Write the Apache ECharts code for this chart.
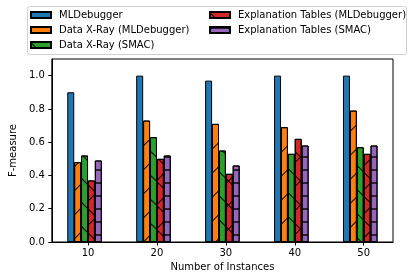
<!DOCTYPE html>
<html>
<head>
<meta charset="utf-8">
<script src="https://cdn.jsdelivr.net/npm/echarts@6/dist/echarts.min.js"></script>
<style>html,body{margin:0;padding:0;background:#fff}#c{width:417px;height:280px}</style>
</head>
<body>
<div id="c"></div>
<script>
const categories = [10, 20, 30, 40, 50];
const seriesNames = ['MLDebugger', 'Data X-Ray (MLDebugger)', 'Data X-Ray (SMAC)', 'Explanation Tables (MLDebugger)', 'Explanation Tables (SMAC)'];
const mlDebugger = [0.90, 1.00, 0.97, 1.00, 1.00];
const xrayML = [0.48, 0.73, 0.71, 0.69, 0.79];
const xraySMAC = [0.52, 0.63, 0.55, 0.53, 0.57];
const etML = [0.37, 0.50, 0.41, 0.62, 0.53];
const etSMAC = [0.49, 0.52, 0.46, 0.58, 0.58];
const yTicks = [0, 0.2, 0.4, 0.6, 0.8, 1.0];

const values = [mlDebugger, xrayML, xraySMAC, etML, etSMAC];
const offsets = [-2.5, -1.5, -0.5, 0.5, 1.5];
const colors = ['#1f77b4', '#ff7f0e', '#2ca02c', '#d62728', '#9467bd'];
const F = 'DejaVu Sans';
const back = { symbol: 'rect', dashArrayX: [1, 0], dashArrayY: [0.7, 16], rotation: -Math.PI / 4, color: '#000' };
const fwd = { symbol: 'rect', dashArrayX: [1, 0], dashArrayY: [0.7, 16], rotation: Math.PI / 4, color: '#000' };
const horiz = { symbol: 'rect', dashArrayX: [1, 0], dashArrayY: [1.5, 10.5], rotation: 0, color: 'rgba(0,0,0,0.7)' };
const decals = [null, back, fwd, fwd, horiz];

function mk(i, name, color, decal, border) {
  return {
    type: 'bar', name: name, barWidth: 7, barGap: '-100%',
    data: categories.map((c, k) => [c + offsets[i], values[i][k]]),
    itemStyle: Object.assign({ color: color, borderColor: '#000', borderWidth: border }, decal ? { decal: decal } : {}),
    emphasis: { disabled: true }, animation: false
  };
}
const series = seriesNames.map((n, i) => mk(i, n, colors[i], decals[i], 1));
series.push(mk(3, 'etOverlay', 'rgba(0,0,0,0)', back, 0));

const chart = echarts.init(document.getElementById('c'), null, { renderer: 'canvas' });
chart.setOption({
  animation: false,
  grid: { left: 44, right: 24, top: 59, bottom: 38, show: true, borderColor: '#000', borderWidth: 1, backgroundColor: 'transparent' },
  xAxis: {
    type: 'value', min: 4.75, max: 54.25,
    splitLine: { show: false },
    axisLine: { lineStyle: { color: '#000', width: 1 } },
    axisTick: { show: true, length: 3.5, lineStyle: { color: '#000' }, customValues: categories },
    axisLabel: { customValues: categories, margin: 6, fontFamily: F, fontSize: 10, color: '#000' },
    name: 'Number of Instances', nameLocation: 'middle', nameGap: 20,
    nameTextStyle: { fontFamily: F, fontSize: 10, color: '#000' }
  },
  yAxis: {
    type: 'value', min: 0, max: 1.1,
    splitLine: { show: false },
    axisLine: { show: true, lineStyle: { color: '#000', width: 1 } },
    axisTick: { show: true, length: 3.5, lineStyle: { color: '#000' }, customValues: yTicks },
    axisLabel: { customValues: yTicks, margin: 7, fontFamily: F, fontSize: 10, color: '#000', formatter: v => v.toFixed(1) },
    name: 'F-measure', nameLocation: 'middle', nameGap: 29,
    nameTextStyle: { fontFamily: F, fontSize: 10, color: '#000' }
  },
  graphic: [{
    type: 'rect', left: 27, top: 6, z: -1,
    shape: { width: 379, height: 48, r: 2 },
    style: { fill: '#fff', stroke: '#d0d0d0', lineWidth: 1 }
  }],
  legend: [
    { data: seriesNames.slice(0, 3), orient: 'vertical', left: 30, top: 9, padding: 0, itemGap: 3, itemWidth: 20, itemHeight: 6, icon: 'rect',
      textStyle: { fontFamily: F, fontSize: 10, color: '#000', lineHeight: 12, padding: [0, 0, 0, 3] }, selectedMode: false },
    { data: seriesNames.slice(3), orient: 'vertical', left: 209, top: 9, padding: 0, itemGap: 3, itemWidth: 20, itemHeight: 6, icon: 'rect',
      textStyle: { fontFamily: F, fontSize: 10, color: '#000', lineHeight: 12, padding: [0, 0, 0, 3] }, selectedMode: false }
  ],
  series: series
});
</script>
</body>
</html>
